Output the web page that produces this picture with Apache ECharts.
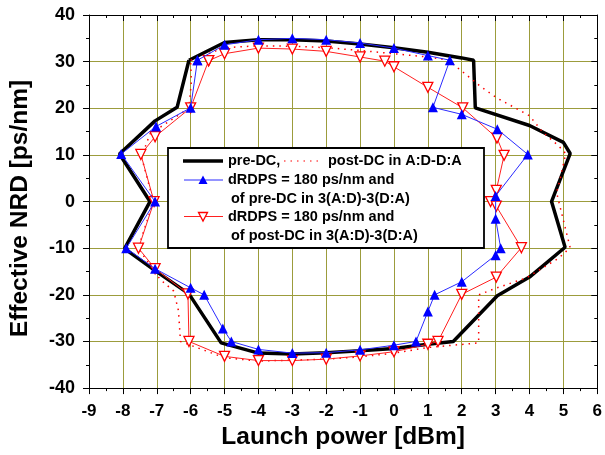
<!DOCTYPE html>
<html>
<head>
<meta charset="utf-8">
<script src="https://cdn.jsdelivr.net/npm/echarts@6/dist/echarts.min.js"></script>
<style>html,body{margin:0;padding:0;background:#fff}#c{width:605px;height:455px}</style>
</head>
<body>
<div id="c"></div>
<script>
// Data: [launch power dBm, effective NRD ps/nm]
const xTicks = [-9,-8,-7,-6,-5,-4,-3,-2,-1,0,1,2,3,4,5,6];
const yTicks = [-40,-30,-20,-10,0,10,20,30,40];

const preDC = [[-6.05,30.3],[-5,34.1],[-4,34.7],[-3,34.7],[-2,34.4],[-1,33.8],[0,33],[1,32],[2,30.8],[2.35,30.3],[2.4,20.1],[4,16.3],[5,12.7],[5.2,10.3],[4.65,0],[5.05,-9.8],[4,-16.2],[3.05,-20.2],[1.75,-30],[1,-30.6],[0,-31.5],[-1,-32],[-2,-32.4],[-3,-32.7],[-4,-32.5],[-5.1,-30.3],[-6.05,-19.8],[-7.05,-14.8],[-7.95,-10.1],[-7.2,0],[-8.1,10.2],[-7.05,17.3],[-6.4,20.2],[-6.05,30.3]];

const postDC = [[-6,30.3],[-5,33],[-4,33.4],[-3,33.3],[-2,33],[-1,32.4],[0,31.7],[1,31],[1.6,30.3],[2.2,26.8],[2.55,24.7],[3.04,22.2],[4,18.4],[4.4,14.8],[4.85,12],[5.07,10.3],[4.9,4.7],[4.8,1.9],[5.05,-5.5],[5.2,-9.9],[4.85,-12.2],[3.9,-16.4],[3.04,-18.5],[2.5,-20],[2.5,-30.3],[1,-31.3],[0,-32.5],[-1,-33.3],[-2,-33.8],[-3,-34],[-4,-34.2],[-5,-33.5],[-6.3,-30],[-6.36,-23.4],[-6.5,-19.2],[-6.9,-16.7],[-7.55,-10],[-7.1,0],[-7.45,9.6],[-7.2,14.5],[-6.05,20],[-5.98,25.7],[-6,30.3]];

const pre3 = [[-5.8,30.3],[-5,33.6],[-4,34.7],[-3,35],[-2,34.7],[-1,34],[0,32.9],[1,31.3],[1.65,30.3],[1.15,20.2],[2,18.7],[3.05,15.5],[3.95,10.1],[3,1.2],[3,-3.7],[3.15,-10],[3,-11.5],[2,-17.2],[1.2,-20],[1,-23.6],[0.65,-30],[0,-30.8],[-1,-31.8],[-2,-32.4],[-3,-32.5],[-4,-31.7],[-4.8,-30],[-5.05,-27.2],[-5.6,-20],[-6,-18.5],[-7.05,-14.4],[-7.9,-10],[-7.05,0],[-8.05,10.2],[-7.02,16.1],[-6,20.1],[-5.8,30.3]];

const post3 = [[-5.47,30.2],[-5,31.7],[-4,32.9],[-3,32.7],[-2,32.2],[-1,31],[-0.27,30.1],[0,28.9],[1,24.5],[2.03,20.1],[3.04,13.6],[3.25,9.9],[3.02,2.4],[2.85,0],[3.02,-1],[3.76,-9.9],[3.02,-16.2],[2,-19.9],[1.3,-30],[1,-30.6],[0,-32.2],[-1,-33.1],[-2,-33.8],[-3,-34.1],[-4,-34.1],[-5,-33.2],[-6.05,-30],[-6.08,-19.8],[-7.05,-14.4],[-7.54,-10],[-7.08,0],[-7.47,10.1],[-7.05,13.9],[-6,20.1],[-5.47,30.2]];

const legendLines = [
  'pre-DC,',
  'post-DC in A:D-D:A',
  'dRDPS = 180 ps/nm and',
  'of pre-DC in 3(A:D)-3(D:A)',
  'dRDPS = 180 ps/nm and',
  'of post-DC in 3(A:D)-3(D:A)'
];

const FONT = '"Liberation Sans", Arial, sans-serif';
const GRID = '#9c9c3c';
const BLUE = '#2a2aff';
const RED = '#ff2020';

const chart = echarts.init(document.getElementById('c'), null, {renderer: 'canvas'});

const baseX = {
  type: 'value', min: xTicks[0], max: xTicks[xTicks.length - 1], interval: 1,
  axisLine: {show: true, onZero: false, lineStyle: {color: '#000', width: 1}},
  minorTick: {show: true, splitNumber: 2, length: 3, lineStyle: {color: '#000'}},
  axisTick: {show: true, length: 6, lineStyle: {color: '#000'}}
};
const baseY = {
  type: 'value', min: yTicks[0], max: yTicks[yTicks.length - 1], interval: 10,
  axisLine: {show: true, onZero: false, lineStyle: {color: '#000', width: 1}},
  minorTick: {show: true, splitNumber: 2, length: 3, lineStyle: {color: '#000'}},
  axisTick: {show: true, length: 6, lineStyle: {color: '#000'}}
};

const lx = 168, ly = 148;
const textStyle = (t, x, y) => ({
  type: 'text', x: x, y: y, z: 101,
  style: {text: t, fill: '#000', font: 'bold 14.5px ' + FONT, textVerticalAlign: 'middle', textAlign: 'left'}
});

chart.setOption({
  animation: false,
  backgroundColor: '#fff',
  grid: {left: 85, right: 7, top: 15, bottom: 60, containLabel: false},
  xAxis: [
    Object.assign({}, baseX, {
      position: 'bottom',
      axisTick: Object.assign({}, baseX.axisTick, {inside: false}),
      axisLabel: {color: '#000', fontFamily: FONT, fontWeight: 'bold', fontSize: 17, margin: 15},
      splitLine: {show: true, lineStyle: {color: GRID, width: 1}},
      name: 'Launch power [dBm]', nameLocation: 'middle', nameGap: 29,
      nameTextStyle: {color: '#000', fontFamily: FONT, fontWeight: 'bold', fontSize: 24.5}
    }),
    Object.assign({}, baseX, {
      position: 'top',
      axisTick: Object.assign({}, baseX.axisTick, {inside: true}),
      axisLabel: {show: false},
      splitLine: {show: false}
    })
  ],
  yAxis: [
    Object.assign({}, baseY, {
      position: 'left',
      axisTick: Object.assign({}, baseY.axisTick, {inside: false}),
      axisLabel: {color: '#000', fontFamily: FONT, fontWeight: 'bold', fontSize: 18, margin: 14},
      splitLine: {show: true, lineStyle: {color: GRID, width: 1}},
      name: 'Effective NRD [ps/nm]', nameLocation: 'middle', nameGap: 56,
      nameTextStyle: {color: '#000', fontFamily: FONT, fontWeight: 'bold', fontSize: 24.5, padding: [0, 14, 0, 0]}
    }),
    Object.assign({}, baseY, {
      position: 'right',
      axisTick: Object.assign({}, baseY.axisTick, {inside: true}),
      axisLabel: {show: false},
      splitLine: {show: false}
    })
  ],
  series: [
    {
      name: 'pre-DC', type: 'line', data: preDC, showSymbol: false, symbol: 'none',
      lineStyle: {color: '#000', width: 3.5}, z: 3
    },
    {
      name: 'post-DC', type: 'line', data: postDC, showSymbol: false, symbol: 'none',
      lineStyle: {color: '#ff0000', width: 1.5, type: [1.5, 5]}, z: 4
    },
    {
      name: 'post3', type: 'line', data: post3, symbol: 'triangle', symbolRotate: 180, symbolSize: 10,
      lineStyle: {color: RED, width: 1},
      itemStyle: {color: '#fff', borderColor: '#ff0000', borderWidth: 1.3}, z: 5
    },
    {
      name: 'pre3', type: 'line', data: pre3, symbol: 'triangle', symbolSize: 10,
      lineStyle: {color: BLUE, width: 1},
      itemStyle: {color: '#0000ff', borderColor: '#0000ff', borderWidth: 0}, z: 6
    }
  ],
  graphic: [
    {type: 'rect', z: 100, shape: {x: lx, y: ly, width: 316, height: 100},
      style: {fill: '#fff', stroke: '#000', lineWidth: 1.8}},
    {type: 'line', z: 101, shape: {x1: 183, y1: 161, x2: 223, y2: 161}, style: {stroke: '#000', lineWidth: 3.5}},
    textStyle(legendLines[0], 228, 161),
    {type: 'line', z: 101, shape: {x1: 284, y1: 161, x2: 318, y2: 161}, style: {stroke: '#ff0000', lineWidth: 1.2, lineDash: [1.5, 5]}},
    textStyle(legendLines[1], 328, 161),
    {type: 'line', z: 101, shape: {x1: 184, y1: 180, x2: 223, y2: 180}, style: {stroke: BLUE, lineWidth: 1}},
    {type: 'polygon', z: 102, shape: {points: [[203, 175.5], [207.5, 184], [198.5, 184]]}, style: {fill: '#0000ff'}},
    textStyle(legendLines[2], 228, 180),
    textStyle(legendLines[3], 231, 199),
    {type: 'line', z: 101, shape: {x1: 184, y1: 216.5, x2: 223, y2: 216.5}, style: {stroke: RED, lineWidth: 1}},
    {type: 'polygon', z: 102, shape: {points: [[198.5, 212.5], [207.5, 212.5], [203, 221]]}, style: {fill: '#fff', stroke: '#ff0000', lineWidth: 1.3}},
    textStyle(legendLines[4], 228, 216.5),
    textStyle(legendLines[5], 231, 236)
  ]
});
</script>
</body>
</html>
